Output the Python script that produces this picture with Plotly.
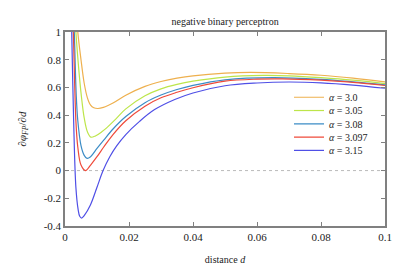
import plotly.graph_objects as go

alphas = ["3.0", "3.05", "3.08", "3.097", "3.15"]
colors = ["#eeb04e", "#bde54a", "#3b8cc6", "#ef4a3a", "#4f4fe6"]

d_a30 = [0.0030, 0.0040, 0.0050, 0.0060, 0.0070, 0.0080, 0.0090, 0.0103, 0.0120, 0.0150,
         0.0190, 0.0250, 0.0300, 0.0350, 0.0400, 0.0500, 0.0580, 0.0700, 0.0800, 0.0900, 0.1000]
v_a30 = [1.35, 1.00, 0.80, 0.63, 0.525, 0.472, 0.453, 0.448, 0.456, 0.488,
         0.544, 0.608, 0.643, 0.667, 0.684, 0.703, 0.708, 0.700, 0.688, 0.667, 0.640]

d_a305 = [0.0025, 0.0034, 0.0045, 0.0053, 0.0060, 0.0070, 0.0081, 0.0095, 0.0115, 0.0131,
          0.0160, 0.0190, 0.0250, 0.0300, 0.0350, 0.0400, 0.0500, 0.0620, 0.0700, 0.0800, 0.0900, 0.1000]
v_a305 = [1.40, 1.00, 0.68, 0.50, 0.38, 0.28, 0.241, 0.250, 0.280, 0.310,
          0.375, 0.445, 0.540, 0.590, 0.622, 0.645, 0.675, 0.687, 0.684, 0.671, 0.653, 0.628]

d_a308 = [0.0022, 0.0029, 0.0035, 0.0040, 0.0050, 0.0060, 0.0069, 0.0080, 0.0100, 0.0121,
          0.0150, 0.0190, 0.0250, 0.0300, 0.0350, 0.0400, 0.0500, 0.0650, 0.0800, 0.0900, 0.1000]
v_a308 = [1.40, 1.00, 0.55, 0.36, 0.18, 0.11, 0.088, 0.100, 0.160, 0.220,
          0.300, 0.390, 0.490, 0.545, 0.585, 0.615, 0.655, 0.671, 0.658, 0.640, 0.618]

d_a3097 = [0.0020, 0.0026, 0.0034, 0.0040, 0.0050, 0.0064, 0.0080, 0.0100, 0.0121, 0.0150,
           0.0190, 0.0250, 0.0300, 0.0350, 0.0400, 0.0500, 0.0600, 0.0680, 0.0800, 0.0900, 0.1000]
v_a3097 = [1.40, 1.00, 0.36, 0.17, 0.04, 0.000, 0.040, 0.100, 0.170, 0.260,
           0.360, 0.465, 0.525, 0.565, 0.598, 0.645, 0.660, 0.662, 0.652, 0.636, 0.614]

d_a315 = [0.0017, 0.0021, 0.0027, 0.0034, 0.0041, 0.0046, 0.0052, 0.0060, 0.0079, 0.0100, 0.0119,
          0.0140, 0.0162, 0.0190, 0.0233, 0.0280, 0.0343, 0.0400, 0.0500, 0.0600, 0.0700, 0.0800, 0.0900, 0.1000]
v_a315 = [1.40, 1.00, 0.36, -0.12, -0.28, -0.330, -0.343, -0.325, -0.250, -0.120, 0.000,
          0.100, 0.180, 0.260, 0.355, 0.440, 0.513, 0.560, 0.612, 0.632, 0.639, 0.633, 0.617, 0.594]

series_d = [d_a30, d_a305, d_a308, d_a3097, d_a315]
series_v = [v_a30, v_a305, v_a308, v_a3097, v_a315]

x_ticks = [0, 0.02, 0.04, 0.06, 0.08, 0.1]
x_ticklabels = ["0", "0.02", "0.04", "0.06", "0.08", "0.1"]
y_ticks = [-0.4, -0.2, 0, 0.2, 0.4, 0.6, 0.8, 1]
y_ticklabels = ["-0.4", "-0.2", "0", "0.2", "0.4", "0.6", "0.8", "1"]

FONT = "Liberation Serif"

legend_names = ["legend", "legend2", "legend3", "legend4", "legend5"]

fig = go.Figure()
for a, c, xs, ys, lg in zip(alphas, colors, series_d, series_v, legend_names):
    fig.add_trace(go.Scatter(
        x=xs, y=ys, mode="lines", name=f"<i>α</i> = {a}", legend=lg,
        line=dict(color=c, width=1.2, shape="spline", smoothing=1.0),
    ))

fig.add_shape(type="line", xref="paper", yref="y", x0=0, x1=1, y0=0, y1=0,
              line=dict(color="#aaaaaa", width=0.8, dash="dot"), layer="below")

axis_common = dict(
    showgrid=False, zeroline=False, showline=True, linecolor="#808080", linewidth=1.5,
    mirror="ticks", ticks="inside", ticklen=4, tickcolor="#808080", tickwidth=1,
    tickfont=dict(family=FONT, size=11, color="#222222"), automargin=False,
)

legend_layout = {}
for i, lg in enumerate(legend_names):
    legend_layout[lg] = dict(
        x=0.70, y=0.7385 - i * 0.0685, xanchor="left", yanchor="top",
        bgcolor="rgba(0,0,0,0)", font=dict(family=FONT, size=10),
        itemwidth=30, tracegroupgap=0,
    )

fig.update_layout(
    width=407, height=271,
    margin=dict(l=65, r=22, t=32, b=45),
    paper_bgcolor="white", plot_bgcolor="white",
    font=dict(family=FONT, size=11, color="#222222"),
    title=dict(text="negative binary perceptron", x=0.553, xanchor="center",
               y=0.922, yanchor="middle", font=dict(family=FONT, size=10)),
    xaxis=dict(range=[0, 0.1], tickvals=x_ticks, ticktext=x_ticklabels,
               title=dict(text="distance <i>d</i>", font=dict(family=FONT, size=10), standoff=14),
               **axis_common),
    yaxis=dict(range=[-0.4, 1], tickvals=y_ticks, ticktext=y_ticklabels,
               title=dict(text="∂<i>φ</i><sub><i>FP</i></sub>/∂<i>d</i>", font=dict(family=FONT, size=11), standoff=15),
               **axis_common),
    showlegend=True,
    **legend_layout,
)

fig.write_html("out.html", config={"displayModeBar": False},
               post_script="document.body.style.margin='0';")
